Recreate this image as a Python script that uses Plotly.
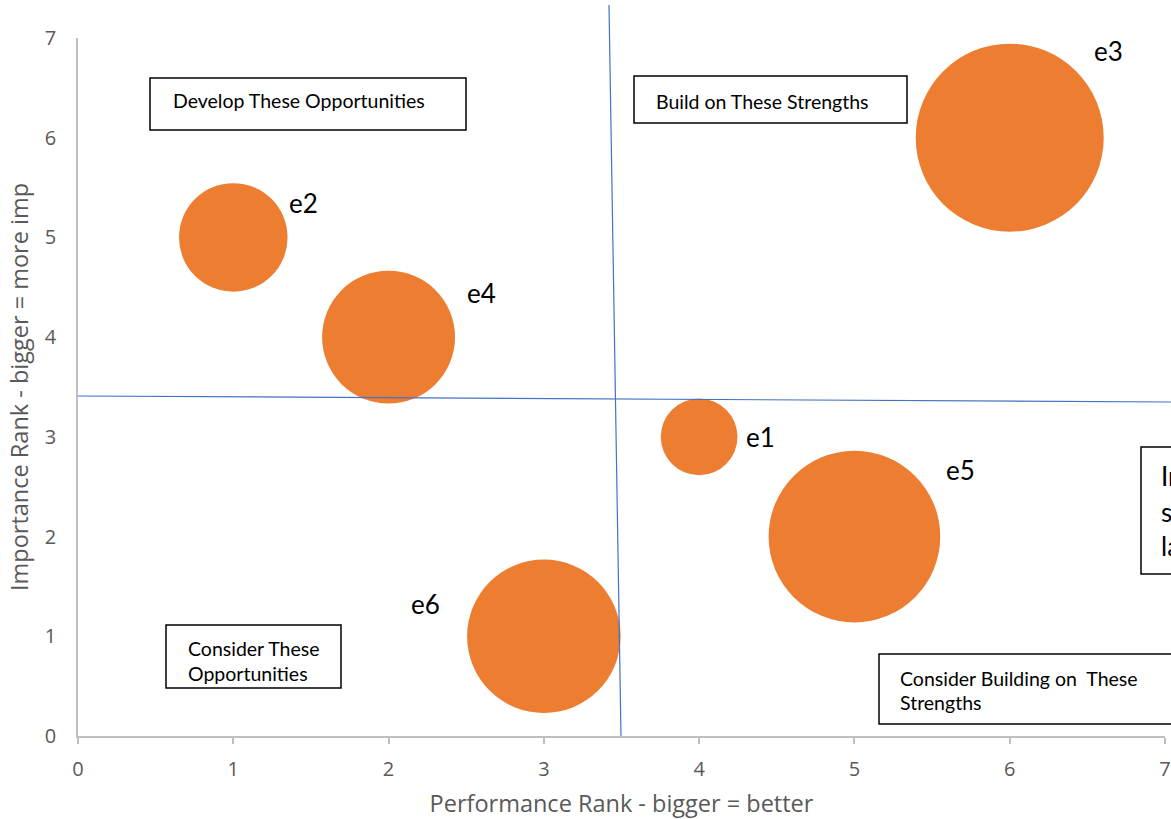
import plotly.graph_objects as go

# ---- data ----
names = ["e1", "e2", "e3", "e4", "e5", "e6"]
performance = [4, 1, 6, 2, 5, 3]
importance = [3, 5, 6, 4, 2, 1]
bubble_size = [1, 2, 6, 3, 5, 4]

x_title = "Performance Rank - bigger = better"
y_title = "Importance Rank - bigger = more imp"

# ---- layout geometry (pixels) ----
W, H = 1171, 819
L, R, T, B = 78, 6, 38, 83
PW, PH = W - L - R, H - T - B
FONT = "Lato, 'Open Sans', sans-serif"
AXFONT = "'Open Sans', sans-serif"


def px(xp):
    return (xp - L) / PW


def py(yp):
    return (H - B - yp) / PH


max_diam = 188
sizeref = 2.0 * max(bubble_size) / max_diam ** 2

fig = go.Figure()
fig.add_trace(go.Scatter(
    x=performance, y=importance, mode="markers",
    marker=dict(size=bubble_size, sizemode="area", sizeref=sizeref,
                color="#ED7D31", opacity=1, line=dict(width=0)),
    hoverinfo="text", text=names, showlegend=False, cliponaxis=False,
))

# label offsets (pixels) relative to bubble centre
label_shift = {"e1": (61, 0), "e2": (70, 34), "e3": (99, 87),
               "e4": (93, 44), "e5": (106, 67), "e6": (-118, 32)}
annotations = []
for n, xv, yv in zip(names, performance, importance):
    dx, dy = label_shift[n]
    annotations.append(dict(x=xv, y=yv, xref="x", yref="y", text=n,
                            showarrow=False, xshift=dx, yshift=dy,
                            font=dict(family=FONT, size=26, color="#000000")))

shapes = []
# quadrant divider lines (drawn freehand, slightly tilted)
shapes.append(dict(type="line", xref="paper", yref="paper",
                   x0=px(609), y0=py(5), x1=px(621), y1=py(736),
                   line=dict(color="#4472C4", width=1.2)))
shapes.append(dict(type="line", xref="paper", yref="paper",
                   x0=px(78), y0=py(396), x1=px(1175), y1=py(402),
                   line=dict(color="#4472C4", width=1.2)))

# text boxes: (x0, y0, x1, y1, text_left, [line centres], lines, fontsize)
boxes = [
    (150, 78, 466, 130, 171, [100], ["Develop These Opportunities"], 19.5),
    (634, 76, 907, 123, 654, [101], ["Build on These Strengths"], 19.5),
    (166, 625, 341, 688, 186, [648, 673], ["Consider These", "Opportunities"], 19.5),
    (879, 654, 1190, 724, 898, [678, 702], ["Consider Building on  These", "Strengths"], 19.5),
    (1141, 447, 1300, 574, 1159, [476, 512, 546], ["Increasing", "size =", "larger"], 26),
]
for x0, y0, x1, y1, tl, ys, lines, fs in boxes:
    shapes.append(dict(type="rect", xref="paper", yref="paper",
                       x0=px(x0), y0=py(y0), x1=px(x1), y1=py(y1),
                       line=dict(color="#000000", width=1.5),
                       fillcolor="rgba(255,255,255,0)"))
    for yy, t in zip(ys, lines):
        annotations.append(dict(x=px(tl), y=py(yy), xref="paper", yref="paper",
                                text=t, showarrow=False, xanchor="left",
                                yanchor="middle",
                                font=dict(family=FONT, size=fs, color="#000000")))

fig.update_layout(
    width=W, height=H,
    margin=dict(l=L, r=R, t=T, b=B, autoexpand=False),
    paper_bgcolor="white", plot_bgcolor="white",
    font=dict(family=AXFONT, color="#595959"),
    shapes=shapes, annotations=annotations,
    xaxis=dict(range=[0, 7], dtick=1, tick0=0, showgrid=False, zeroline=False,
               automargin=False,
               showline=True, linecolor="#BFBFBF", linewidth=1.5,
               ticks="outside", ticklen=6, tickcolor="#BFBFBF", tickwidth=1.5,
               tickfont=dict(size=20, color="#595959"), ticklabelstandoff=8,
               title=dict(text=x_title, font=dict(size=23.5, color="#595959"),
                          standoff=17)),
    yaxis=dict(range=[0, 7], dtick=1, tick0=0, showgrid=False, zeroline=False,
               automargin=False,
               showline=True, linecolor="#BFBFBF", linewidth=1.5,
               ticks="", tickfont=dict(size=20, color="#595959"),
               ticklabelstandoff=16,
               title=dict(text=y_title, font=dict(size=23.5, color="#595959"),
                          standoff=10)),
)

fig.write_html("out.html")
